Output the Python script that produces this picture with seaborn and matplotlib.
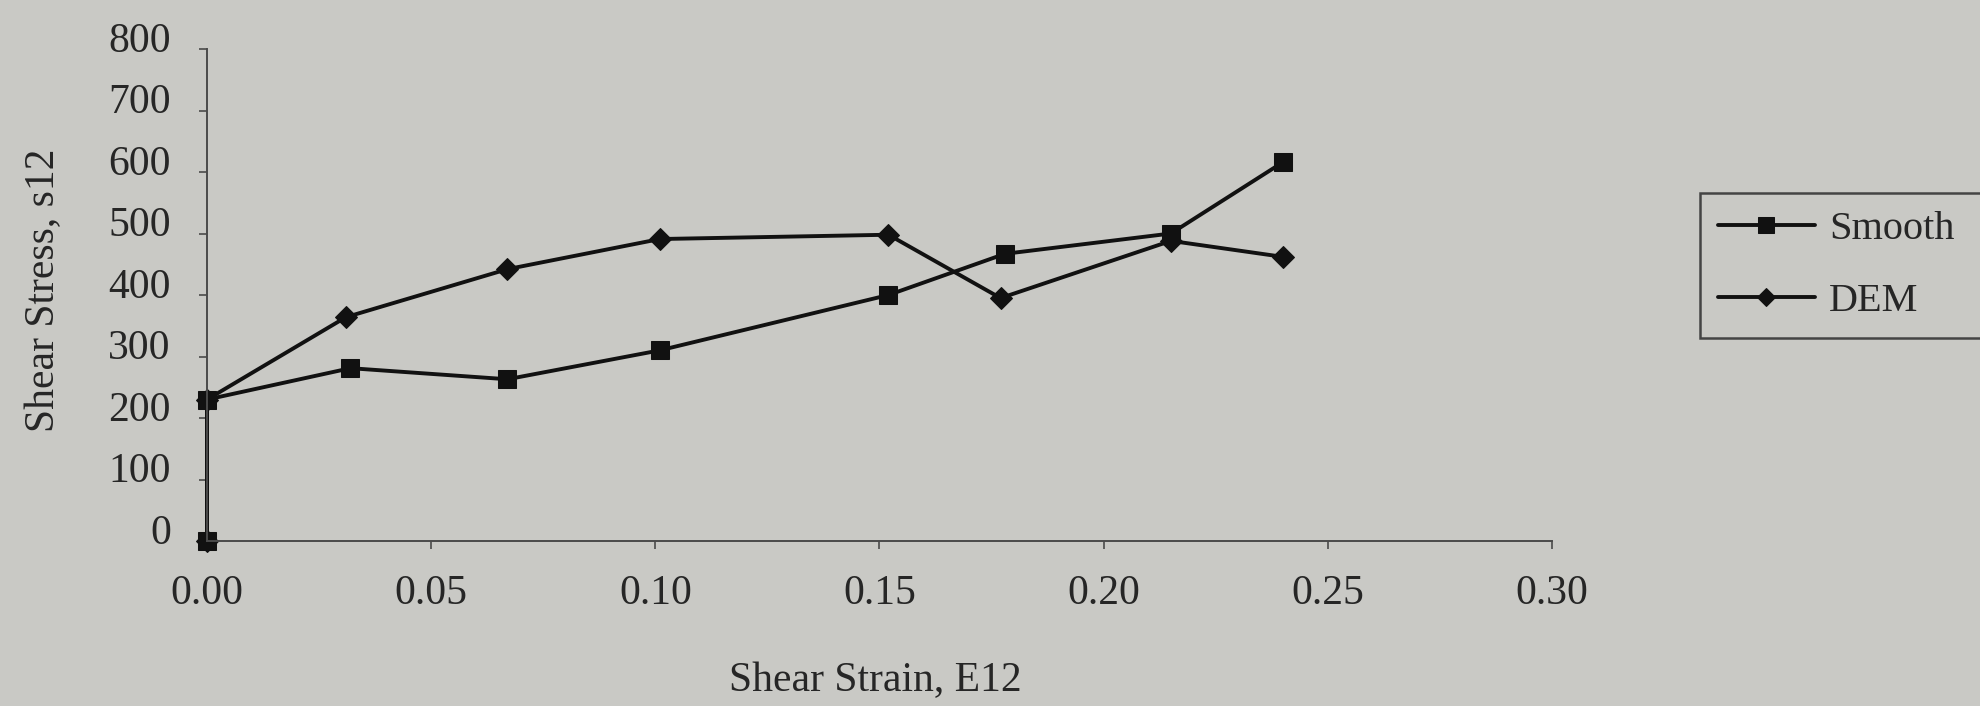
import matplotlib
matplotlib.use("Agg")
import matplotlib.pyplot as plt
import matplotlib.transforms as mtransforms
import seaborn as sns
import pandas as pd

# ---- data ----
smooth_strain = [0.0, 0.0, 0.032, 0.067, 0.101, 0.152, 0.178, 0.215, 0.240]
smooth_stress = [0, 230, 281, 263, 310, 400, 467, 500, 616]
dem_strain = [0.0, 0.0, 0.031, 0.067, 0.101, 0.152, 0.177, 0.215, 0.240]
dem_stress = [0, 230, 364, 442, 491, 498, 395, 488, 462]

x_ticks = [0.00, 0.05, 0.10, 0.15, 0.20, 0.25, 0.30]
y_ticks = [0, 100, 200, 300, 400, 500, 600, 700, 800]
x_label = "Shear Strain, E12"
y_label = "Shear Stress, s12"

bg = "#c9c9c5"
ink = "#111111"
txt = "#262626"

sns.set_theme(style="ticks")
plt.rcParams["font.family"] = ["Liberation Serif", "DejaVu Serif"]

fig = plt.figure(figsize=(19.81, 7.06), dpi=100, facecolor=bg)
ax = fig.add_axes([207 / 1981, 1 - 541 / 706, (1552 - 207) / 1981, (541 - 49) / 706])
ax.set_facecolor(bg)

df_s = pd.DataFrame({"strain": smooth_strain, "stress": smooth_stress})
df_d = pd.DataFrame({"strain": dem_strain, "stress": dem_stress})

sns.lineplot(data=df_s, x="strain", y="stress", ax=ax, estimator=None, sort=False,
             color=ink, linewidth=2.8, marker="s", markersize=13,
             markeredgecolor=ink, markerfacecolor=ink, label="Smooth")
sns.lineplot(data=df_d, x="strain", y="stress", ax=ax, estimator=None, sort=False,
             color=ink, linewidth=2.8, marker="D", markersize=11,
             markeredgecolor=ink, markerfacecolor=ink, label="DEM")

for ln in ax.get_lines():
    ln.set_clip_on(False)

ax.set_xlim(0, 0.30)
ax.set_ylim(0, 800)
ax.set_xticks(x_ticks)
ax.set_xticklabels([f"{v:.2f}" for v in x_ticks])
ax.set_yticks(y_ticks)
ax.set_yticklabels([str(v) for v in y_ticks])

for side in ["top", "right"]:
    ax.spines[side].set_visible(False)
for side in ["left", "bottom"]:
    ax.spines[side].set_color("#4a4a4a")
    ax.spines[side].set_linewidth(1.4)

ax.tick_params(axis="both", direction="out", length=6, width=1.2, color="#4a4a4a",
               labelsize=30, labelcolor=txt)
ax.tick_params(axis="x", pad=18)
ax.tick_params(axis="y", pad=20)

# y tick labels sit slightly above their ticks in the reference
offset = mtransforms.ScaledTranslation(0, 12 / 100, fig.dpi_scale_trans)
for lab in ax.get_yticklabels():
    lab.set_transform(lab.get_transform() + offset)

ax.set_xlabel(x_label, fontsize=30, color=txt)
ax.set_ylabel(y_label, fontsize=30, color=txt)
ax.xaxis.label.set_va("center")
ax.yaxis.label.set_va("center")
ax.xaxis.set_label_coords((875 - 207) / 1345, (541 - 681) / 492)
ax.yaxis.set_label_coords((44 - 207) / 1345, (541 - 290) / 492)

# legend box runs off the right edge of the figure, as in the reference
leg_h = (347 - 193) / 706
leg = ax.legend(loc="upper left",
                bbox_to_anchor=(1700 / 1981, 1 - 347 / 706, 0.2, leg_h),
                mode="expand",
                bbox_transform=fig.transFigure, borderaxespad=0, fontsize=29,
                frameon=True, fancybox=False, framealpha=1, facecolor=bg,
                edgecolor="#444444", handlelength=2.4, handletextpad=0.35,
                borderpad=0.45, labelspacing=0.85, markerscale=0.85)
leg.get_frame().set_linewidth(1.8)
for t in leg.get_texts():
    t.set_color(txt)

fig.savefig("out.png", dpi=100, facecolor=bg)
